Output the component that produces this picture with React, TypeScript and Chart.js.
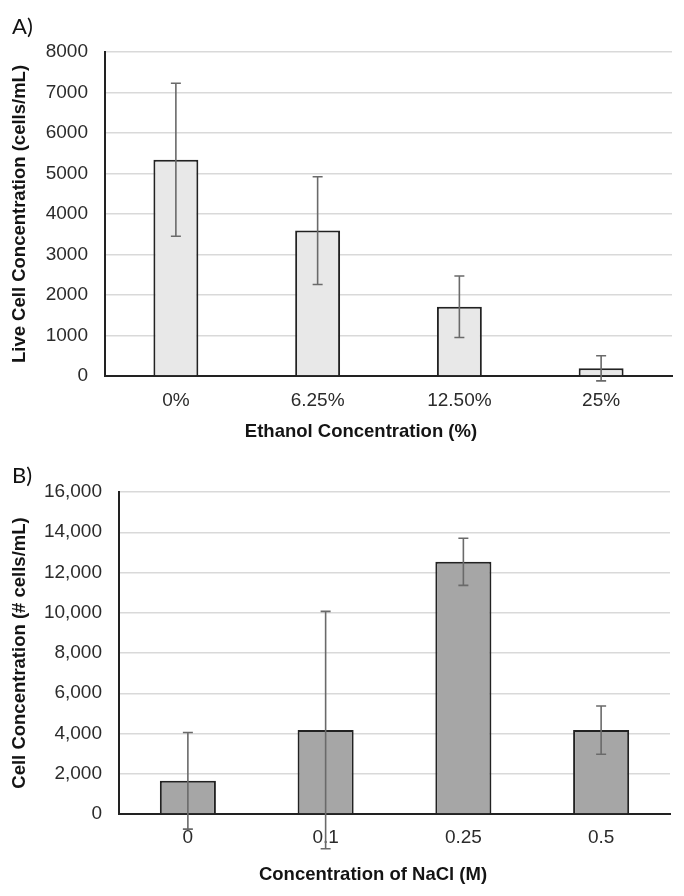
import React, { useEffect, useRef } from 'react';
import { Chart, registerables } from 'chart.js';

Chart.register(...registerables);

// ---------- Data ----------
const ethanolLabels = ['0%', '6.25%', '12.50%', '25%'];
const ethanolMeans = [5340, 3590, 1710, 190];
const ethanolErrors = [1890, 1330, 760, 310];

const naclLabels = ['0', '0.1', '0.25', '0.5'];
const naclMeans = [1650, 4170, 12530, 4170];
const naclErrors = [2400, 5900, 1170, 1200];

const ethanolYMax = 8000;
const ethanolYStep = 1000;
const naclYMax = 16000;
const naclYStep = 2000;

const ethanolYTitle = 'Live Cell Concentration (cells/mL)';
const ethanolXTitle = 'Ethanol Concentration (%)';
const naclYTitle = 'Cell Concentration (# cells/mL)';
const naclXTitle = 'Concentration of NaCl (M)';

// ---------- Styles ----------
const FONT = '"Liberation Sans", Arial, sans-serif';
const TICK_COLOR = '#2b2b2b';
const TITLE_COLOR = '#141414';
const GRID_COLOR = '#d9d9d9';
const AXIS_COLOR = '#222222';

const errorBarPlugin = {
  id: 'errorBars',
  afterDatasetsDraw(chart: any, _args: any, opts: any) {
    const { ctx } = chart;
    const yScale = chart.scales.y;
    chart.data.datasets.forEach((ds: any, di: number) => {
      const meta = chart.getDatasetMeta(di);
      meta.data.forEach((bar: any, i: number) => {
        const v = ds.data[i];
        const e = ds.errors[i];
        const x = bar.x;
        const yTop = yScale.getPixelForValue(v + e);
        const yBot = yScale.getPixelForValue(v - e);
        const cap = opts.cap;
        ctx.save();
        ctx.strokeStyle = opts.color;
        ctx.lineWidth = opts.width;
        ctx.beginPath();
        ctx.moveTo(x, yTop);
        ctx.lineTo(x, yBot);
        ctx.moveTo(x - cap, yTop);
        ctx.lineTo(x + cap, yTop);
        ctx.moveTo(x - cap, yBot);
        ctx.lineTo(x + cap, yBot);
        ctx.stroke();
        ctx.restore();
      });
    });
  },
};

const xTitlePlugin = {
  id: 'xTitle',
  afterDraw(chart: any, _args: any, opts: any) {
    const { ctx } = chart;
    ctx.save();
    ctx.font = `bold ${opts.size}px ${FONT}`;
    ctx.fillStyle = TITLE_COLOR;
    ctx.textAlign = 'center';
    ctx.textBaseline = 'middle';
    ctx.fillText(opts.text, opts.x, opts.y);
    ctx.restore();
  },
};

function makeConfig(p: {
  labels: string[];
  means: number[];
  errors: number[];
  fill: string;
  barPct: number;
  yMax: number;
  yStep: number;
  yTitle: string;
  xTitle: string;
  xTitleX: number;
  xTitleY: number;
  padTop: number;
  padRight: number;
  yWidth: number;
  xHeight: number;
  xTickPad: number;
  commas: boolean;
}): any {
  return {
    type: 'bar',
    data: {
      labels: p.labels,
      datasets: [
        {
          data: p.means,
          errors: p.errors,
          backgroundColor: p.fill,
          borderColor: AXIS_COLOR,
          borderWidth: 2,
          barPercentage: p.barPct,
          categoryPercentage: 1,
        },
      ],
    },
    options: {
      responsive: false,
      animation: false,
      layout: { padding: { top: p.padTop, right: p.padRight, bottom: 0, left: 0 } },
      plugins: {
        legend: { display: false },
        tooltip: { enabled: false },
        errorBars: { color: '#6a6a6a', width: 1.6, cap: 5 },
        xTitle: { text: p.xTitle, x: p.xTitleX, y: p.xTitleY, size: 18.5 },
      },
      scales: {
        x: {
          grid: { display: false, drawTicks: false },
          border: { display: true, color: AXIS_COLOR, width: 2 },
          ticks: { font: { family: FONT, size: 19 }, color: TICK_COLOR, padding: p.xTickPad },
          afterFit: (s: any) => {
            s.height = p.xHeight;
          },
        },
        y: {
          min: 0,
          max: p.yMax,
          ticks: {
            stepSize: p.yStep,
            font: { family: FONT, size: 19 },
            color: TICK_COLOR,
            padding: 17,
            callback: (v: any) => (p.commas ? Number(v).toLocaleString('en-US') : String(v)),
          },
          grid: { color: GRID_COLOR, lineWidth: 1.5, drawTicks: false },
          border: { display: true, color: AXIS_COLOR, width: 2 },
          title: {
            display: true,
            text: p.yTitle,
            color: TITLE_COLOR,
            font: { family: FONT, size: 18.5, weight: 'bold' },
            padding: { top: 9, bottom: 0 },
          },
          afterFit: (s: any) => {
            s.width = p.yWidth;
          },
        },
      },
    },
    plugins: [errorBarPlugin, xTitlePlugin],
  };
}

function BarChart({ config, width, height, top }: { config: any; width: number; height: number; top: number }) {
  const ref = useRef<HTMLCanvasElement | null>(null);
  useEffect(() => {
    if (!ref.current) return;
    const chart = new Chart(ref.current, config);
    return () => chart.destroy();
  }, [config]);
  return (
    <canvas
      ref={ref}
      width={width}
      height={height}
      style={{ position: 'absolute', left: 0, top, width, height, display: 'block' }}
    />
  );
}

const configA = makeConfig({
  labels: ethanolLabels,
  means: ethanolMeans,
  errors: ethanolErrors,
  fill: '#e8e8e8',
  barPct: 0.317,
  yMax: ethanolYMax,
  yStep: ethanolYStep,
  yTitle: ethanolYTitle,
  xTitle: ethanolXTitle,
  xTitleX: 361,
  xTitleY: 432,
  padTop: 52,
  padRight: 12,
  yWidth: 105,
  xHeight: 68,
  xTickPad: 13,
  commas: false,
});

const configB = makeConfig({
  labels: naclLabels,
  means: naclMeans,
  errors: naclErrors,
  fill: '#a6a6a6',
  barPct: 0.407,
  yMax: naclYMax,
  yStep: naclYStep,
  yTitle: naclYTitle,
  xTitle: naclXTitle,
  xTitleX: 373,
  xTitleY: 431,
  padTop: 48,
  padRight: 14,
  yWidth: 119,
  xHeight: 82,
  xTickPad: 12,
  commas: true,
});

const panelLabelStyle: React.CSSProperties = {
  position: 'absolute',
  left: 12,
  fontFamily: 'Lato, "Open Sans", sans-serif',
  fontSize: 22,
  color: '#111',
  lineHeight: 'normal',
};

export default function App() {
  return (
    <div style={{ position: 'absolute', left: 0, top: 0, width: 684, height: 896, background: '#fff' }}>
      <BarChart config={configA} width={684} height={444} top={0} />
      <BarChart config={configB} width={684} height={452} top={444} />
      <div style={{ ...panelLabelStyle, top: 12 }}>A)</div>
      <div style={{ ...panelLabelStyle, top: 461 }}>B)</div>
    </div>
  );
}
